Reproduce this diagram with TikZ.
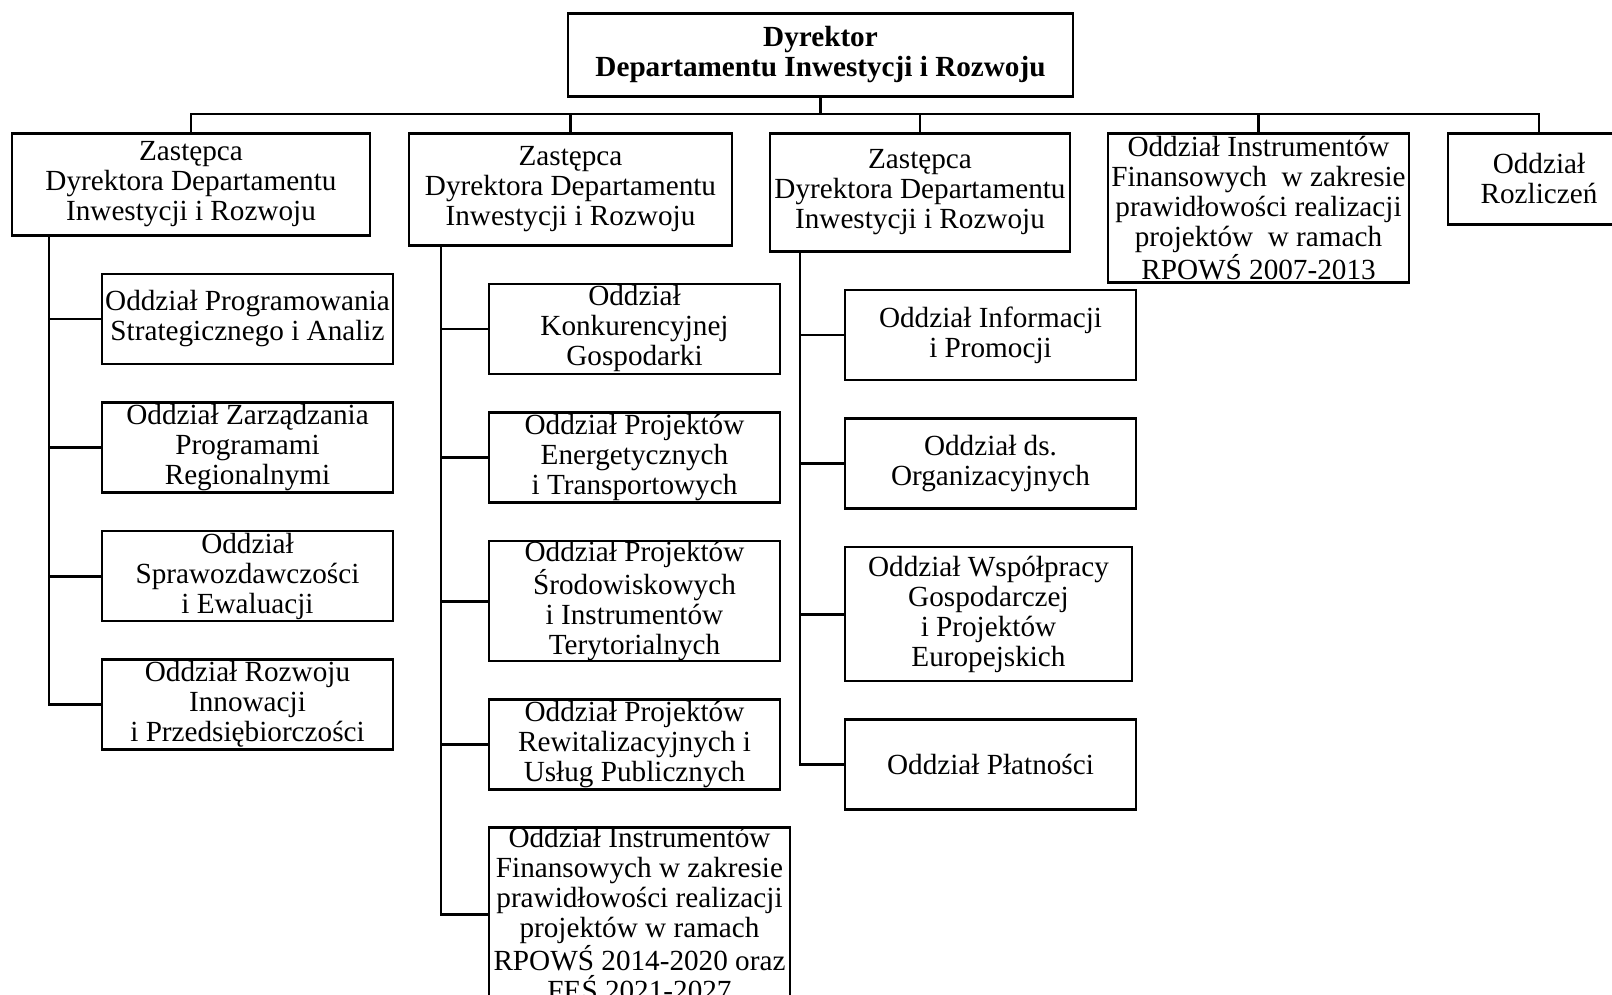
\documentclass[tikz,border=0pt]{standalone}
\usepackage{fontspec}
\setmainfont{Liberation Serif}
\usetikzlibrary{positioning}
\tikzset{
  dept/.style={draw, line width=1.3pt, align=center, inner sep=0pt,
    minimum width=145.5pt, minimum height=45pt},
  link/.style={line width=1.4pt}
}
\begin{document}
\begin{tikzpicture}[x=0.5pt, y=-0.5pt, node distance=18pt,
  font=\fontsize{14.6pt}{15pt}\selectfont]
\useasboundingbox (0,0) rectangle (1612,995);
\clip (0,0) rectangle (1612,995);

        \node (dyr) [dept, anchor=north, minimum width=252.5pt, minimum height=41.5pt, font=\fontsize{14.6pt}{15pt}\selectfont\bfseries] at (820.5,12) {Dyrektor\\Departamentu Inwestycji i Rozwoju};

        \node (zast1) [dept, anchor=north, minimum width=179pt, minimum height=51pt] at (191,132) {Zastępca\\Dyrektora Departamentu\\Inwestycji i Rozwoju};
        \node (zast2) [dept, anchor=north, minimum width=161.5pt, minimum height=56pt] at (570.5,132) {Zastępca\\Dyrektora Departamentu\\Inwestycji i Rozwoju};
        \node (zast3) [dept, anchor=north, minimum width=150pt, minimum height=59pt] at (920,132) {Zastępca\\Dyrektora Departamentu\\Inwestycji i Rozwoju};
        \node (instr) [dept, anchor=north, minimum width=150.5pt, minimum height=74.5pt] at (1258.5,132) {Oddział Instrumentów\\Finansowych\ \ w zakresie\\prawidłowości realizacji\\projektów\ \ w ramach\\RPOWŚ 2007-2013};
        \node (rozl) [dept, anchor=north, minimum width=91pt, minimum height=45.5pt] at (1539,132) {Oddział\\Rozliczeń};

        \coordinate (bus) at (820,114);

        \node (prog) [dept, below=of zast1, xshift=28.25pt] {Oddział Programowania\\Strategicznego i Analiz};
        \node (zarz) [dept, below=of prog] {Oddział Zarządzania\\Programami\\Regionalnymi};
        \node (spraw) [dept, below=of zarz] {Oddział\\Sprawozdawczości\\i Ewaluacji};
        \node (innow) [dept, below=of spraw] {Oddział Rozwoju\\Innowacji\\i Przedsiębiorczości};

        \node (konk) [dept, below=of zast2, xshift=32pt] {Oddział\\Konkurencyjnej\\Gospodarki};
        \node (energ) [dept, below=of konk] {Oddział Projektów\\Energetycznych\\i Transportowych};
        \node (srod) [dept, below=of energ, minimum height=60pt] {Oddział Projektów\\Środowiskowych\\i Instrumentów\\Terytorialnych};
        \node (rewit) [dept, below=of srod] {Oddział Projektów\\Rewitalizacyjnych i\\Usług Publicznych};
        \node (fes) [dept, below=17.5pt of rewit, xshift=2.5pt, minimum width=150.5pt, minimum height=87pt] {Oddział Instrumentów\\Finansowych w zakresie\\prawidłowości realizacji\\projektów w ramach\\RPOWŚ 2014-2020 oraz\\FEŚ 2021-2027};

        \node (promo) [dept, below=of zast3, xshift=35.25pt] {Oddział Informacji\\i Promocji};
        \node (organ) [dept, below=of promo] {Oddział ds.\\Organizacyjnych};
        \node (wspol) [dept, below=of organ, xshift=-1pt, minimum width=143.5pt, minimum height=67pt] {Oddział Współpracy\\Gospodarczej\\i Projektów\\Europejskich};
        \node (platn) [dept, below=of wspol, xshift=1pt] {Oddział Płatności};

        \coordinate (spine1) at (49,0);
        \coordinate (spine2) at (441,0);
        \coordinate (spine3) at (800,0);

        \draw[link] (dyr.south) -- (dyr.south |- bus);
        \draw[link] (zast1.north) -- (zast1.north |- bus) -- (rozl.north |- bus) -- (rozl.north);
        \draw[link] (zast2.north) -- (zast2.north |- bus);
        \draw[link] (zast3.north) -- (zast3.north |- bus);
        \draw[link] (instr.north) -- (instr.north |- bus);

        \draw[link] (zast1.south -| spine1) -- (spine1 |- innow.west) -- (innow.west);
        \draw[link] (prog.west) -- (prog.west -| spine1);
        \draw[link] (zarz.west) -- (zarz.west -| spine1);
        \draw[link] (spraw.west) -- (spraw.west -| spine1);

        \draw[link] (zast2.south -| spine2) -- (spine2 |- fes.west) -- (fes.west);
        \draw[link] (konk.west) -- (konk.west -| spine2);
        \draw[link] (energ.west) -- (energ.west -| spine2);
        \draw[link] (srod.west) -- (srod.west -| spine2);
        \draw[link] (rewit.west) -- (rewit.west -| spine2);

        \draw[link] (zast3.south -| spine3) -- (spine3 |- platn.west) -- (platn.west);
        \draw[link] (promo.west) -- (promo.west -| spine3);
        \draw[link] (organ.west) -- (organ.west -| spine3);
        \draw[link] (wspol.west) -- (wspol.west -| spine3);

\end{tikzpicture}
\end{document}
